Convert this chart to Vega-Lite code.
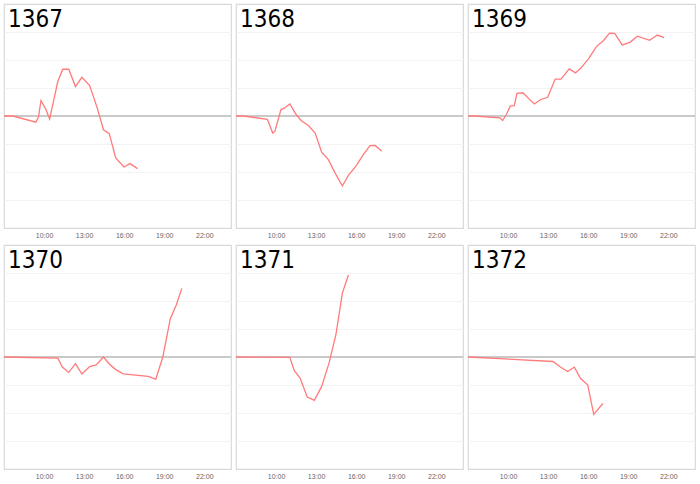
{
  "$schema": "https://vega.github.io/schema/vega-lite/v6.json",
  "padding": {"left": 0, "top": 3, "right": 0, "bottom": 0},
  "background": "white",
  "data": {
    "format": {"parse": {"t": "date:'%H:%M'"}},
    "values": [
      {"id": "1367", "t": "07:00", "v": 0},
      {"id": "1367", "t": "07:40", "v": 0},
      {"id": "1367", "t": "09:23", "v": -0.22},
      {"id": "1367", "t": "09:35", "v": -0.04},
      {"id": "1367", "t": "09:46", "v": 0.55},
      {"id": "1367", "t": "10:07", "v": 0.26},
      {"id": "1367", "t": "10:25", "v": -0.11},
      {"id": "1367", "t": "11:02", "v": 1.24},
      {"id": "1367", "t": "11:24", "v": 1.67},
      {"id": "1367", "t": "11:51", "v": 1.67},
      {"id": "1367", "t": "12:21", "v": 1.05},
      {"id": "1367", "t": "12:50", "v": 1.38},
      {"id": "1367", "t": "13:25", "v": 1.09},
      {"id": "1367", "t": "13:58", "v": 0.31},
      {"id": "1367", "t": "14:27", "v": -0.49},
      {"id": "1367", "t": "14:53", "v": -0.63},
      {"id": "1367", "t": "15:22", "v": -1.5},
      {"id": "1367", "t": "15:59", "v": -1.82},
      {"id": "1367", "t": "16:26", "v": -1.7},
      {"id": "1367", "t": "17:00", "v": -1.88},
      {"id": "1368", "t": "07:00", "v": 0},
      {"id": "1368", "t": "07:33", "v": 0},
      {"id": "1368", "t": "09:21", "v": -0.12},
      {"id": "1368", "t": "09:45", "v": -0.61},
      {"id": "1368", "t": "09:55", "v": -0.54},
      {"id": "1368", "t": "10:22", "v": 0.23},
      {"id": "1368", "t": "10:37", "v": 0.28},
      {"id": "1368", "t": "11:02", "v": 0.43},
      {"id": "1368", "t": "11:28", "v": 0.08},
      {"id": "1368", "t": "11:52", "v": -0.16},
      {"id": "1368", "t": "12:25", "v": -0.34},
      {"id": "1368", "t": "12:55", "v": -0.6},
      {"id": "1368", "t": "13:25", "v": -1.29},
      {"id": "1368", "t": "13:55", "v": -1.56},
      {"id": "1368", "t": "14:25", "v": -2.03},
      {"id": "1368", "t": "14:58", "v": -2.5},
      {"id": "1368", "t": "15:25", "v": -2.12},
      {"id": "1368", "t": "15:59", "v": -1.79},
      {"id": "1368", "t": "16:32", "v": -1.38},
      {"id": "1368", "t": "17:02", "v": -1.06},
      {"id": "1368", "t": "17:25", "v": -1.05},
      {"id": "1368", "t": "17:55", "v": -1.26},
      {"id": "1369", "t": "07:00", "v": 0},
      {"id": "1369", "t": "07:30", "v": 0},
      {"id": "1369", "t": "09:24", "v": -0.07},
      {"id": "1369", "t": "09:36", "v": -0.16},
      {"id": "1369", "t": "09:54", "v": 0.08},
      {"id": "1369", "t": "10:10", "v": 0.35},
      {"id": "1369", "t": "10:28", "v": 0.37},
      {"id": "1369", "t": "10:40", "v": 0.81},
      {"id": "1369", "t": "11:07", "v": 0.83},
      {"id": "1369", "t": "11:32", "v": 0.63},
      {"id": "1369", "t": "11:58", "v": 0.43},
      {"id": "1369", "t": "12:25", "v": 0.58},
      {"id": "1369", "t": "12:58", "v": 0.67},
      {"id": "1369", "t": "13:32", "v": 1.32},
      {"id": "1369", "t": "13:58", "v": 1.32},
      {"id": "1369", "t": "14:35", "v": 1.68},
      {"id": "1369", "t": "15:03", "v": 1.54},
      {"id": "1369", "t": "15:28", "v": 1.72},
      {"id": "1369", "t": "16:03", "v": 2.06},
      {"id": "1369", "t": "16:37", "v": 2.48},
      {"id": "1369", "t": "17:08", "v": 2.69},
      {"id": "1369", "t": "17:36", "v": 2.96},
      {"id": "1369", "t": "17:59", "v": 2.95},
      {"id": "1369", "t": "18:33", "v": 2.54},
      {"id": "1369", "t": "19:08", "v": 2.63},
      {"id": "1369", "t": "19:41", "v": 2.85},
      {"id": "1369", "t": "20:36", "v": 2.7},
      {"id": "1369", "t": "21:11", "v": 2.89},
      {"id": "1369", "t": "21:41", "v": 2.8},
      {"id": "1370", "t": "07:00", "v": 0},
      {"id": "1370", "t": "11:02", "v": -0.04},
      {"id": "1370", "t": "11:22", "v": -0.36},
      {"id": "1370", "t": "11:51", "v": -0.55},
      {"id": "1370", "t": "12:21", "v": -0.24},
      {"id": "1370", "t": "12:50", "v": -0.61},
      {"id": "1370", "t": "13:25", "v": -0.34},
      {"id": "1370", "t": "13:54", "v": -0.28},
      {"id": "1370", "t": "14:27", "v": 0},
      {"id": "1370", "t": "14:53", "v": -0.25},
      {"id": "1370", "t": "15:22", "v": -0.45},
      {"id": "1370", "t": "15:56", "v": -0.6},
      {"id": "1370", "t": "17:47", "v": -0.69},
      {"id": "1370", "t": "18:22", "v": -0.79},
      {"id": "1370", "t": "18:54", "v": 0.01},
      {"id": "1370", "t": "19:27", "v": 1.36},
      {"id": "1370", "t": "19:54", "v": 1.86},
      {"id": "1370", "t": "20:19", "v": 2.45},
      {"id": "1371", "t": "07:00", "v": 0},
      {"id": "1371", "t": "11:02", "v": -0.01},
      {"id": "1371", "t": "11:22", "v": -0.49},
      {"id": "1371", "t": "11:48", "v": -0.75},
      {"id": "1371", "t": "12:20", "v": -1.43},
      {"id": "1371", "t": "12:52", "v": -1.55},
      {"id": "1371", "t": "13:25", "v": -1.05},
      {"id": "1371", "t": "13:58", "v": -0.22},
      {"id": "1371", "t": "14:29", "v": 0.8},
      {"id": "1371", "t": "14:58", "v": 2.28},
      {"id": "1371", "t": "15:25", "v": 2.93},
      {"id": "1372", "t": "07:00", "v": 0},
      {"id": "1372", "t": "13:22", "v": -0.16},
      {"id": "1372", "t": "13:55", "v": -0.36},
      {"id": "1372", "t": "14:28", "v": -0.52},
      {"id": "1372", "t": "14:58", "v": -0.36},
      {"id": "1372", "t": "15:25", "v": -0.76},
      {"id": "1372", "t": "15:58", "v": -1.0},
      {"id": "1372", "t": "16:25", "v": -2.05},
      {"id": "1372", "t": "17:06", "v": -1.66}
    ]
  },
  "facet": {
    "field": "id",
    "type": "nominal",
    "header": {"title": null, "labelExpr": "''", "labelFontSize": 0, "labelPadding": 0}
  },
  "columns": 3,
  "bounds": "flush",
  "spacing": {"column": 5, "row": 17},
  "resolve": {"axis": {"x": "independent"}},
  "spec": {
    "width": 227,
    "height": 224,
    "layer": [
      {
        "mark": {"type": "rule", "color": "#c8c8c8", "strokeWidth": 1.5},
        "encoding": {"y": {"datum": 0}}
      },
      {
        "mark": {"type": "line", "color": "#ff7b7b", "strokeWidth": 1.3, "interpolate": "linear"},
        "encoding": {
          "x": {
            "field": "t",
            "type": "temporal",
            "title": null,
            "scale": {
              "domain": [
                {"year": 1900, "month": 1, "date": 1, "hours": 7},
                {"year": 1900, "month": 1, "date": 2, "hours": 0}
              ]
            },
            "axis": {
              "values": [
                {"year": 1900, "month": 1, "date": 1, "hours": 10},
                {"year": 1900, "month": 1, "date": 1, "hours": 13},
                {"year": 1900, "month": 1, "date": 1, "hours": 16},
                {"year": 1900, "month": 1, "date": 1, "hours": 19},
                {"year": 1900, "month": 1, "date": 1, "hours": 22}
              ],
              "format": "%H:%M",
              "grid": false,
              "ticks": false,
              "domain": false,
              "labelFontSize": 7,
              "labelFont": "Liberation Sans",
              "labelColor": "#666666",
              "labelPadding": 3
            }
          },
          "y": {
            "field": "v",
            "type": "quantitative",
            "title": null,
            "scale": {"domain": [-4, 4], "nice": false},
            "axis": {
              "values": [-3, -2, -1, 1, 2, 3],
              "labels": false,
              "ticks": false,
              "domain": false,
              "grid": true,
              "gridColor": "#f3f3f3",
              "minExtent": 0,
              "maxExtent": 0
            }
          }
        }
      },
      {
        "transform": [{"aggregate": [{"op": "count", "as": "n"}], "groupby": ["id"]}],
        "mark": {
          "type": "text",
          "align": "left",
          "baseline": "top",
          "dx": 4,
          "dy": 4,
          "fontSize": 24,
          "font": "DejaVu Sans Condensed, DejaVu Sans",
          "color": "black"
        },
        "encoding": {
          "x": {"datum": {"year": 1900, "month": 1, "date": 1, "hours": 7}, "type": "temporal"},
          "y": {"datum": 4},
          "text": {"field": "id"}
        }
      }
    ]
  },
  "config": {
    "view": {"stroke": "#d9d9d9", "strokeWidth": 1.2}
  }
}
